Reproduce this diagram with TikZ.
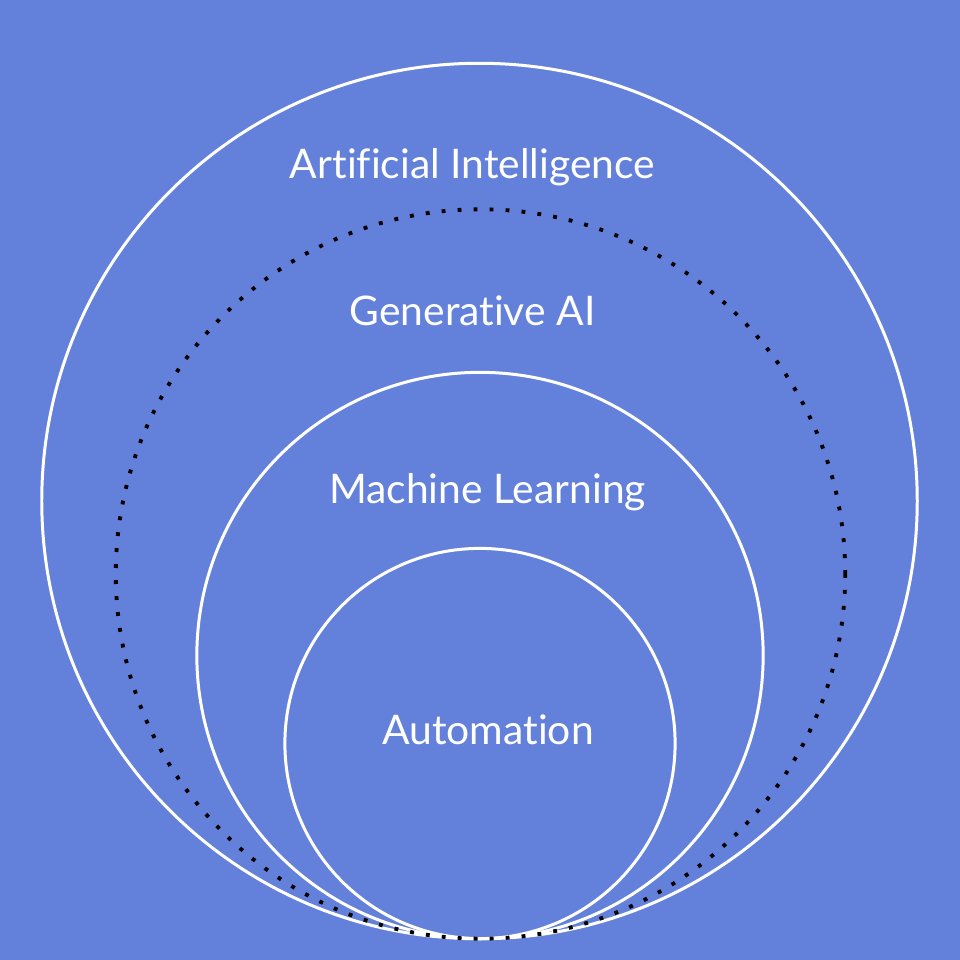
\documentclass[tikz,border=0pt]{standalone}
\usepackage{fontspec}
\setmainfont{Lato}[Ligatures=NoCommon]
\usepackage{tikz}
\usetikzlibrary{backgrounds}

\definecolor{bgblue}{HTML}{6381DB}

\begin{document}
\begin{tikzpicture}[
    x=0.01cm, y=-0.01cm,
    ring/.style={draw=white, circle, line width=0.85pt, inner sep=0pt},
    dotring/.style={draw=black, circle, line width=1.1pt, dash pattern=on 1.1pt off 3.45pt, inner sep=0pt},
    tag/.style={text=white, anchor=base, font=\fontsize{11.6}{14}\selectfont}
]

% Background
\fill[bgblue] (0,0) rectangle (960,960);
\useasboundingbox (0,0) rectangle (960,960);

% Nested circles, all touching at the bottom
\node[ring, minimum size=8.75cm] (ai) at (479.5,501) {};
\node[ring, minimum size=5.66cm] (ml) at (480,655.5) {};
\node[ring, minimum size=3.90cm] (auto) at (480,743.5) {};
\node[dotring, minimum size=7.29cm] (gen) at (480.5,574) {};

% Labels
\node[tag] (ailabel) at (472.5,178) {Artificial Intelligence};
\node[tag] (genlabel) at (472.5,325) {Generative AI};
\node[tag] (mllabel) at (487.5,503) {Machine Learning};
\node[tag] (autolabel) at (488,744) {Automation};

\end{tikzpicture}
\end{document}
